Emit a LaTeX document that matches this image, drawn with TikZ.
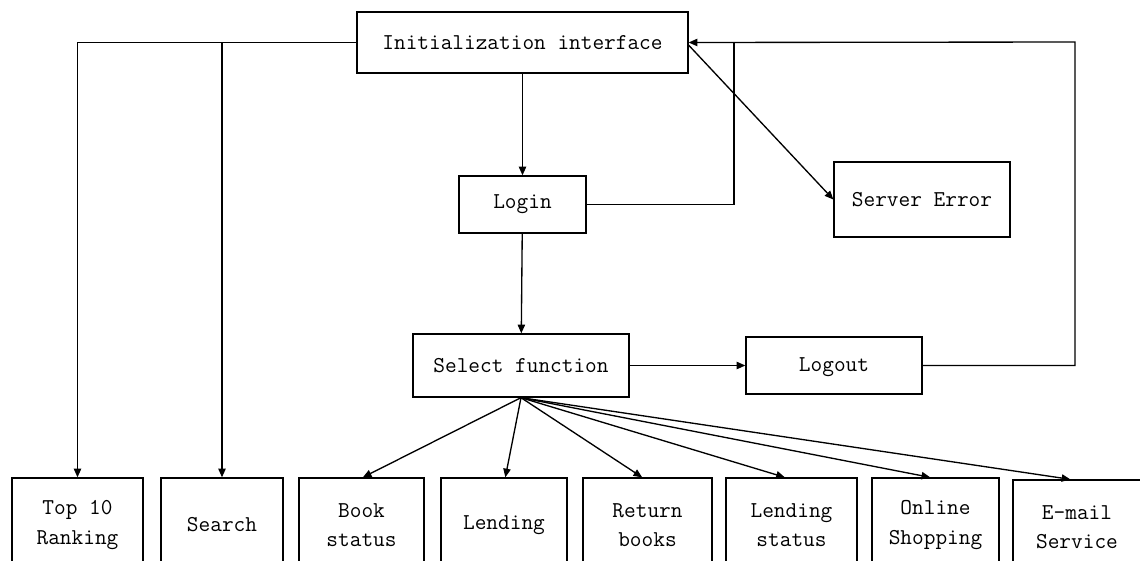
\documentclass[tikz,border=0pt]{standalone}
\usetikzlibrary{arrows.meta}
\begin{document}
\begin{tikzpicture}[x=0.75pt,y=-0.75pt,
  box/.style={draw, line width=1pt, inner sep=0pt, align=center,
    font=\ttfamily\fontsize{17}{22}\selectfont},
  bot/.style={box, minimum height=70.5pt},
  arr/.style={line width=1pt, -{Triangle[length=6.5pt,width=5.5pt]}},
  ln/.style={line width=1pt}]
\useasboundingbox (0,0) rectangle (1140,561);
\clip (0,0) rectangle (1140,561);
% main nodes
\node[box, minimum width=248.25pt, minimum height=45.75pt] (init) at (522.5,42.5) {Initialization interface};
\node[box, minimum width=95.25pt, minimum height=42.75pt] (login) at (522.5,204.5) {Login};
\node[box, minimum width=132pt, minimum height=56.25pt] (se) at (922,199.5) {Server Error};
\node[box, minimum width=162pt, minimum height=47.25pt] (sel) at (521,365.5) {Select function};
\node[box, minimum width=132pt, minimum height=42.75pt] (lo) at (834,365.5) {\strut Logout};
% bottom row
\node[bot, minimum width=98.25pt] (b1) at (77.5,525) {Top 10\\Ranking};
\node[bot, minimum width=91.5pt] (b2) at (222,525) {Search};
\node[bot, minimum width=93.75pt] (b3) at (361.5,525) {Book\\status};
\node[bot, minimum width=94.5pt] (b4) at (504,525) {Lending};
\node[bot, minimum width=96.75pt] (b5) at (647.5,525) {Return\\books};
\node[bot, minimum width=98.25pt] (b6) at (791.5,525) {Lending\\status};
\node[bot, minimum width=95.25pt] (b7) at (935.5,525) {Online\\Shopping};
\node[bot, minimum width=96pt] (b8) at (1077,527) {E-mail\\Service};
% helper coordinates
\coordinate (rc) at (1075,42);
\coordinate (lj) at (734,42);
% connectors
\draw[arr] (init) -- (login);
\draw[arr] (login) -- (sel);
\draw[arr] (sel) -- (lo);
\draw[ln] (login.east) -| (lj);
\draw[arr] (lo.east) -| (rc) -- (init.east);
\draw[arr] ([yshift=-2pt]init.east) -- (se.west);
\draw[arr] (init.west) -| (b1.north);
\draw[arr] (init.west -| b2.north) -- (b2.north);
\draw[arr] (sel.south) -- ([xshift=1pt]b3.north);
\draw[arr] (sel.south) -- ([xshift=1pt]b4.north);
\draw[arr] (sel.south) -- ([xshift=-4pt]b5.north);
\draw[arr] (sel.south) -- ([xshift=-5pt]b6.north);
\draw[arr] (sel.south) -- ([xshift=-4pt]b7.north);
\draw[arr] (sel.south) -- ([xshift=-5pt]b8.north);
\end{tikzpicture}
\end{document}
